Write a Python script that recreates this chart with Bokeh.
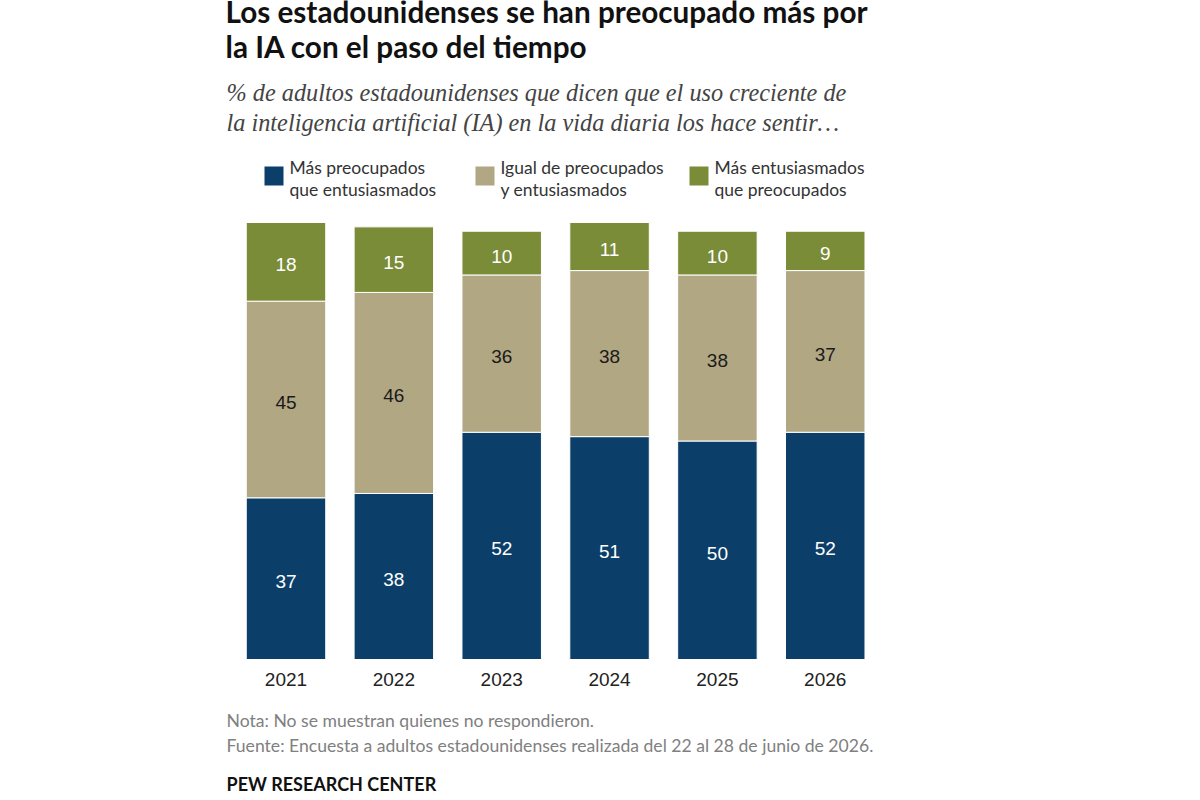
from bokeh.plotting import figure
from bokeh.models import ColumnDataSource, Label, LabelSet, BoxAnnotation, LinearAxis, FixedTicker, NumeralTickFormatter, Range1d
from bokeh.core.properties import value
from bokeh.embed import file_html
from bokeh.resources import INLINE

years = ["2021", "2022", "2023", "2024", "2025", "2026"]
preocupados = [37, 38, 52, 51, 50, 52]
igual = [45, 46, 36, 38, 38, 37]
entusiasmados = [18, 15, 10, 11, 10, 9]
series_names = ["preocupados", "igual", "entusiasmados"]
colors = ["#0b3f69", "#b2a783", "#7a8c38"]

title_lines = ["Los estadounidenses se han preocupado más por", "la IA con el paso del tiempo"]
subtitle_lines = ["% de adultos estadounidenses que dicen que el uso creciente de",
                  "la inteligencia artificial (IA) en la vida diaria los hace sentir…"]
legend_lines = [["Más preocupados", "que entusiasmados"],
                ["Igual de preocupados", "y entusiasmados"],
                ["Más entusiasmados", "que preocupados"]]
note_lines = ["Nota: No se muestran quienes no respondieron.",
              "Fuente: Encuesta a adultos estadounidenses realizada del 22 al 28 de junio de 2026."]
brand = "PEW RESEARCH CENTER"

W, H = 1184, 796
PX_YEAR = 107.85
PX_PCT = 4.37
X0_PX, Y0_PX = 285.5, 659  # position of 2021 and of 0 % in the canvas

x_nums = [int(y) for y in years]
p = figure(width=W, height=H, output_backend="svg", toolbar_location=None,
           x_range=Range1d(x_nums[0] - X0_PX / PX_YEAR, x_nums[0] + (W - X0_PX) / PX_YEAR),
           y_range=Range1d(-(H - Y0_PX) / PX_PCT, Y0_PX / PX_PCT),
           x_axis_location=None, y_axis_location=None,
           min_border_left=0, min_border_right=0, min_border_top=0, min_border_bottom=0,
           outline_line_color=None, background_fill_color="white", border_fill_color="white")
p.grid.visible = False

ax = LinearAxis(fixed_location=0, ticker=FixedTicker(ticks=x_nums), formatter=NumeralTickFormatter(format="0"))
ax.axis_line_color = None
ax.major_tick_line_color = None
ax.minor_tick_line_color = None
ax.major_label_text_font = "Liberation Sans"
ax.major_label_text_font_size = "19px"
ax.major_label_text_color = "#222222"
ax.major_label_standoff = 7
p.add_layout(ax, "below")

src = ColumnDataSource(dict(year=x_nums, preocupados=preocupados, igual=igual, entusiasmados=entusiasmados))
p.vbar_stack(series_names, x="year", width=0.737, source=src, color=colors,
             line_color="white", line_width=1)

base = [0] * len(years)
for vals, col in zip([preocupados, igual, entusiasmados], ["white", "#1a1a1a", "white"]):
    mids = [b + v / 2 for b, v in zip(base, vals)]
    base = [b + v for b, v in zip(base, vals)]
    s = ColumnDataSource(dict(x=x_nums, y=mids, t=[str(v) for v in vals]))
    p.add_layout(LabelSet(x="x", y="y", text="t", source=s, text_align="center", text_baseline="middle",
                          y_offset=-3, text_color=col, text_font=value("Liberation Sans"), text_font_size="19px"))


def text(x, y, t, font, size, color, style="normal"):
    p.add_layout(Label(x=x, y=H - y, x_units="screen", y_units="screen", text=t, text_font=font,
                       text_font_size=size, text_color=color, text_font_style=style,
                       text_baseline="middle", text_align="left"))


for i, t in enumerate(title_lines):
    text(225, 11 + 34.5 * i, t, "Lato", "29.7px", "#111111", "bold")
for i, t in enumerate(subtitle_lines):
    text(226, 92 + 30 * i, t, "Liberation Serif", "24.3px", "#444444", "italic")
swatches = [264, 475, 689]
for x0, lines, c in zip(swatches, legend_lines, colors):
    p.add_layout(BoxAnnotation(left=x0, right=x0 + 19, top=H - 166, bottom=H - 185,
                               left_units="screen", right_units="screen", top_units="screen", bottom_units="screen",
                               fill_color=c, fill_alpha=1, line_color=None))
    for j, t in enumerate(lines):
        text(x0 + 25, 167 + 21.5 * j, t, "Lato", "17.5px", "#333333")
for i, t in enumerate(note_lines):
    text(226, 720 + 24.5 * i, t, "Lato", "17.6px", "#808080")
text(226, 783, brand, "Lato", "18px", "#111111", "bold")

open("out.html", "w").write(file_html(p, INLINE))
